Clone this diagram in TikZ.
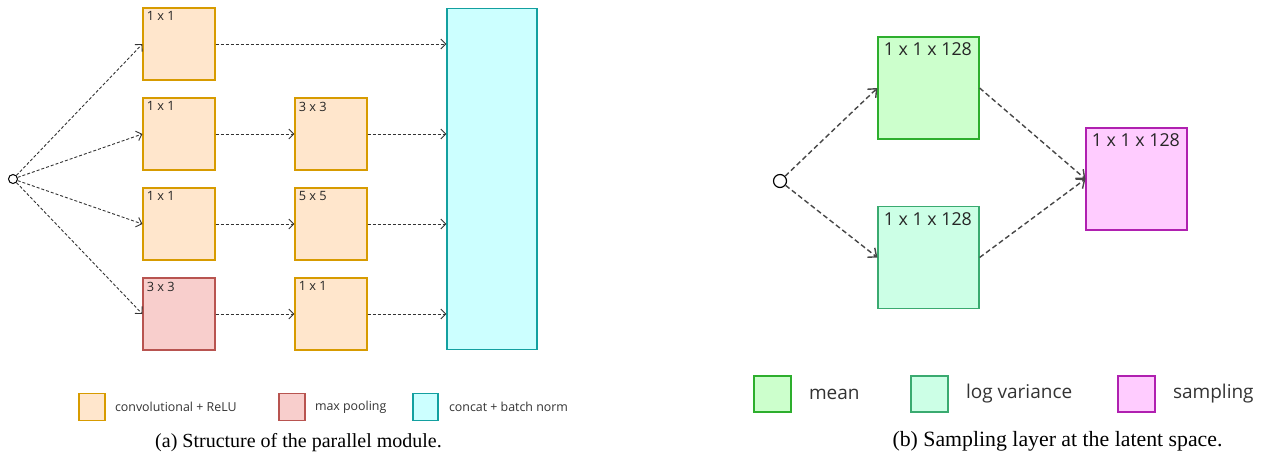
\documentclass[tikz,border=0pt]{standalone}
\usepackage{fontspec}
\setmainfont{Liberation Serif}
\newfontfamily\boxfont{Open Sans}
\usetikzlibrary{arrows.meta, positioning}

\definecolor{convfill}{HTML}{FFE6CC}
\definecolor{convline}{HTML}{D79B00}
\definecolor{poolfill}{HTML}{F8CECC}
\definecolor{poolline}{HTML}{B85450}
\definecolor{catfill}{HTML}{CCFFFF}
\definecolor{catline}{HTML}{13A0A0}
\definecolor{meanfill}{HTML}{CCFFCC}
\definecolor{meanline}{HTML}{2DAE2D}
\definecolor{varfill}{HTML}{CCFFE6}
\definecolor{varline}{HTML}{3AAA70}
\definecolor{smpfill}{HTML}{FFCCFF}
\definecolor{smpline}{HTML}{B020B0}
\definecolor{wire}{HTML}{333333}

\tikzset{
  blk/.style={draw, line width=0.6pt, inner sep=0pt, minimum width=36pt, minimum height=36pt},
  conv/.style={blk, fill=convfill, draw=convline},
  pool/.style={blk, fill=poolfill, draw=poolline},
  cat/.style={blk, fill=catfill, draw=catline, minimum width=45pt, minimum height=170.5pt},
  big/.style={blk, minimum width=50.5pt, minimum height=51pt},
  mean/.style={big, fill=meanfill, draw=meanline},
  logvar/.style={big, fill=varfill, draw=varline},
  smp/.style={big, fill=smpfill, draw=smpline},
  tag/.style={anchor=north west, inner sep=2pt, text=black!85, font=\boxfont\fontsize{6.4}{7}\selectfont},
  bigtag/.style={anchor=north west, inner sep=3pt, text=black!85, font=\boxfont\fontsize{8.9}{10}\selectfont},
  legtxt/.style={inner sep=0pt, text=black!80, font=\boxfont\fontsize{6.2}{7}\selectfont},
  biglegtxt/.style={inner sep=0pt, text=black!80, font=\boxfont\fontsize{9.5}{11}\selectfont},
  dot/.style={circle, draw, line width=0.5pt, inner sep=0pt, minimum size=4.5pt},
  flow/.style={draw=wire, line width=0.45pt, dash pattern=on 1.5pt off 1pt,
    -{Straight Barb[length=2.5pt, width=5pt]}},
  bigflow/.style={draw=wire!90, line width=0.7pt, dash pattern=on 2.5pt off 1.5pt,
    -{Straight Barb[length=3.5pt, width=6pt]}},
  caption/.style={inner sep=0pt, font=\fontsize{10}{12}\selectfont},
}

\begin{document}
\begin{tikzpicture}[x=0.5pt, y=-0.5pt]
  \useasboundingbox (0,0) rectangle (1262,462);

  % ---- (a) parallel module ----
  \node[dot] (in) at (13,179) {};

  % first column of branches
  \node[conv] (c11) at (179,44) {};
  \node[conv] (c21) at (179,134) {};
  \node[conv] (c31) at (179,224) {};
  \node[pool] (c41) at (179,314) {};
  % second column
  \node[conv] (c22) at (331,134) {};
  \node[conv] (c32) at (331,224) {};
  \node[conv] (c42) at (331,314) {};
  % concatenation
  \node[cat] (cat) at (492,179) {};

  \node[tag] (t11) at (c11.north west) {1 x 1};
  \node[tag] (t21) at (c21.north west) {1 x 1};
  \node[tag] (t31) at (c31.north west) {1 x 1};
  \node[tag] (t41) at (c41.north west) {3 x 3};
  \node[tag] (t22) at (c22.north west) {3 x 3};
  \node[tag] (t32) at (c32.north west) {5 x 5};
  \node[tag] (t42) at (c42.north west) {1 x 1};

  % connections
  \foreach \b in {c11,c21,c31,c41}
    \draw[flow] (in) -- (\b.west);
  \draw[flow] (c21) -- (c22);
  \draw[flow] (c31) -- (c32);
  \draw[flow] (c41) -- (c42);
  \draw[flow] (c11.east) -- (c11.east -| cat.west);
  \draw[flow] (c22.east) -- (c22.east -| cat.west);
  \draw[flow] (c32.east) -- (c32.east -| cat.west);
  \draw[flow] (c42.east) -- (c42.east -| cat.west);

  % legend
  \node[conv, minimum width=13pt, minimum height=13.5pt] (lg1) at (92,407) {};
  \node[legtxt, right=4.5pt of lg1] (lt1) {convolutional + ReLU};
  \node[pool, minimum width=13pt, minimum height=13.5pt] (lg2) at (292,407) {};
  \node[legtxt, right=4.5pt of lg2] (lt2) {max pooling};
  \node[cat, minimum width=12.5pt, minimum height=13.5pt] (lg3) at (425.5,407) {};
  \node[legtxt, right=5pt of lg3] (lt3) {concat + batch norm};

  \node[caption] (capa) at (298.5,443) {(a) Structure of the parallel module.};

  % ---- (b) sampling layer ----
  \node[dot, minimum size=6.5pt, line width=0.6pt] (z) at (780,181) {};
  \node[mean] (mu) at (928.5,88) {};
  \node[logvar] (lv) at (928.5,257.5) {};
  \node[smp] (s) at (1136.5,179) {};

  \node[bigtag] (tmu) at (mu.north west) {1 x 1 x 128};
  \node[bigtag] (tlv) at (lv.north west) {1 x 1 x 128};
  \node[bigtag] (ts) at (s.north west) {1 x 1 x 128};

  \draw[bigflow] (z) -- (mu.west);
  \draw[bigflow] (z) -- (lv.west);
  \draw[bigflow] (mu.east) -- (s.west);
  \draw[bigflow] (lv.east) -- (s.west);

  % legend
  \node[mean, minimum width=18.5pt, minimum height=18pt] (lg4) at (772.5,394) {};
  \node[biglegtxt, right=8.5pt of lg4] (lt4) {mean};
  \node[logvar, minimum width=18.5pt, minimum height=18pt] (lg5) at (929.5,394) {};
  \node[biglegtxt, right=8.5pt of lg5] (lt5) {log variance};
  \node[smp, minimum width=18.5pt, minimum height=18pt] (lg6) at (1136.5,394) {};
  \node[biglegtxt, right=8.5pt of lg6] (lt6) {sampling};

  \node[caption, font=\fontsize{10.9}{13}\selectfont] (capb) at (1057.5,441) {(b) Sampling layer at the latent space.};
\end{tikzpicture}
\end{document}
